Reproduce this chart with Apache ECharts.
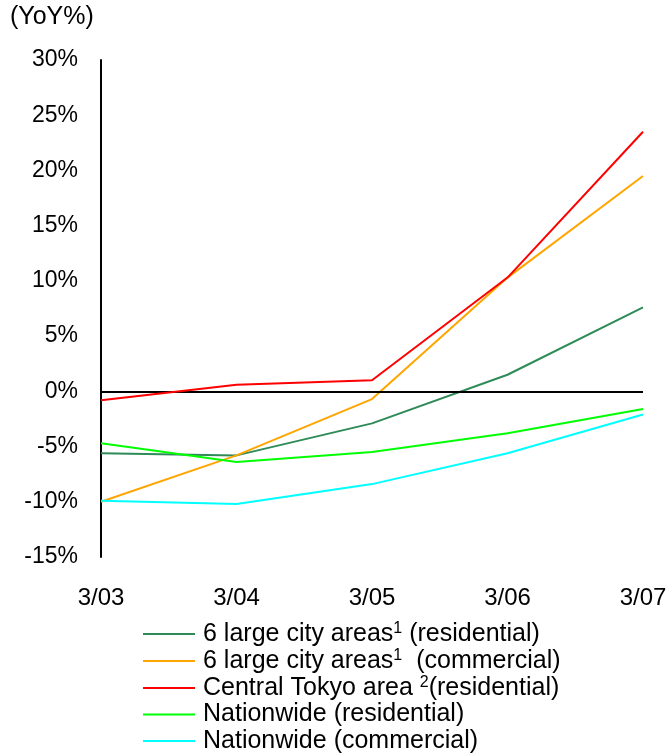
<!DOCTYPE html>
<html>
<head>
<meta charset="utf-8">
<script src="https://cdn.jsdelivr.net/npm/echarts@6/dist/echarts.min.js"></script>
<style>
  html, body { margin: 0; padding: 0; background: #fff; }
  #chart { width: 672px; height: 753px; }
</style>
</head>
<body>
<div id="chart"></div>
<script>
// Fiscal-year periods on the category axis
const periods = ['3/03', '3/04', '3/05', '3/06', '3/07'];

// Land price change, year on year (%)
const largeCityResidential = [-5.6, -5.8, -2.9, 1.5, 7.6];
const largeCityCommercial = [-10.0, -5.8, -0.7, 10.3, 19.5];
const centralTokyoResidential = [-0.8, 0.6, 1.0, 10.3, 23.5];
const nationwideResidential = [-4.7, -6.4, -5.5, -3.8, -1.6];
const nationwideCommercial = [-9.9, -10.2, -8.4, -5.6, -2.1];

// Legend entries: series names and their rich-text labels (with footnote marks)
const seriesNames = [
  '6 large city areas (residential)',
  '6 large city areas (commercial)',
  'Central Tokyo area (residential)',
  'Nationwide (residential)',
  'Nationwide (commercial)'
];
const legendLabels = {
  '6 large city areas (residential)': '{t|6 large city areas}{s|1}{t| (residential)}',
  '6 large city areas (commercial)': '{t|6 large city areas}{s|1}{t|  (commercial)}',
  'Central Tokyo area (residential)': '{t|Central Tokyo area }{s|2}{t|(residential)}',
  'Nationwide (residential)': '{t|Nationwide (residential)}',
  'Nationwide (commercial)': '{t|Nationwide (commercial)}'
};

const FONT = '"Liberation Sans", Arial, sans-serif';
const colors = ['#2e8b57', '#ffa500', '#ff0000', '#00ff00', '#00ffff'];
const values = [largeCityResidential, largeCityCommercial, centralTokyoResidential,
                nationwideResidential, nationwideCommercial];

const chart = echarts.init(document.getElementById('chart'), null, { renderer: 'canvas' });

const series = seriesNames.map((name, i) => ({
  name,
  type: 'line',
  data: values[i],
  symbol: 'none',
  smooth: false,
  lineStyle: { color: colors[i], width: 2 },
  itemStyle: { color: colors[i] },
  z: 3 + i
}));

// Zero reference line
series[0].markLine = {
  silent: true,
  symbol: 'none',
  label: { show: false },
  lineStyle: { color: '#000', width: 2, type: 'solid' },
  data: [{ yAxis: 0 }]
};

chart.setOption({
  animation: false,
  backgroundColor: '#fff',
  color: colors,
  title: {
    text: '(YoY%)',
    left: 10,
    top: 5,
    padding: 0,
    textStyle: { fontFamily: FONT, fontSize: 25, fontWeight: 'normal', color: '#000' }
  },
  grid: { left: 101, right: 29, top: 60, bottom: 196, containLabel: false },
  xAxis: {
    type: 'category',
    data: periods,
    boundaryGap: false,
    axisLine: { show: false },
    axisTick: { show: false },
    splitLine: { show: false },
    axisLabel: {
      margin: 29,
      fontFamily: FONT,
      fontSize: 24,
      color: '#000'
    }
  },
  yAxis: {
    type: 'value',
    min: -15,
    max: 30,
    interval: 5,
    axisLine: { show: true, onZero: false, lineStyle: { color: '#000', width: 2 } },
    axisTick: { show: false },
    splitLine: { show: false },
    axisLabel: {
      margin: 23,
      formatter: '{value}%',
      fontFamily: FONT,
      fontSize: 23,
      color: '#000'
    }
  },
  legend: {
    orient: 'vertical',
    left: 143,
    top: 621,
    padding: 0,
    itemWidth: 52,
    itemHeight: 2,
    itemGap: 1.5,
    icon: 'rect',
    data: seriesNames,
    formatter: name => legendLabels[name],
    textStyle: {
      fontFamily: FONT,
      color: '#000',
      padding: [0, 0, 0, 3],
      rich: {
        t: { fontFamily: FONT, fontSize: 25, color: '#000', lineHeight: 26 },
        s: { fontFamily: FONT, fontSize: 16, color: '#000', lineHeight: 26, verticalAlign: 'top' }
      }
    }
  },
  series
});
</script>
</body>
</html>
